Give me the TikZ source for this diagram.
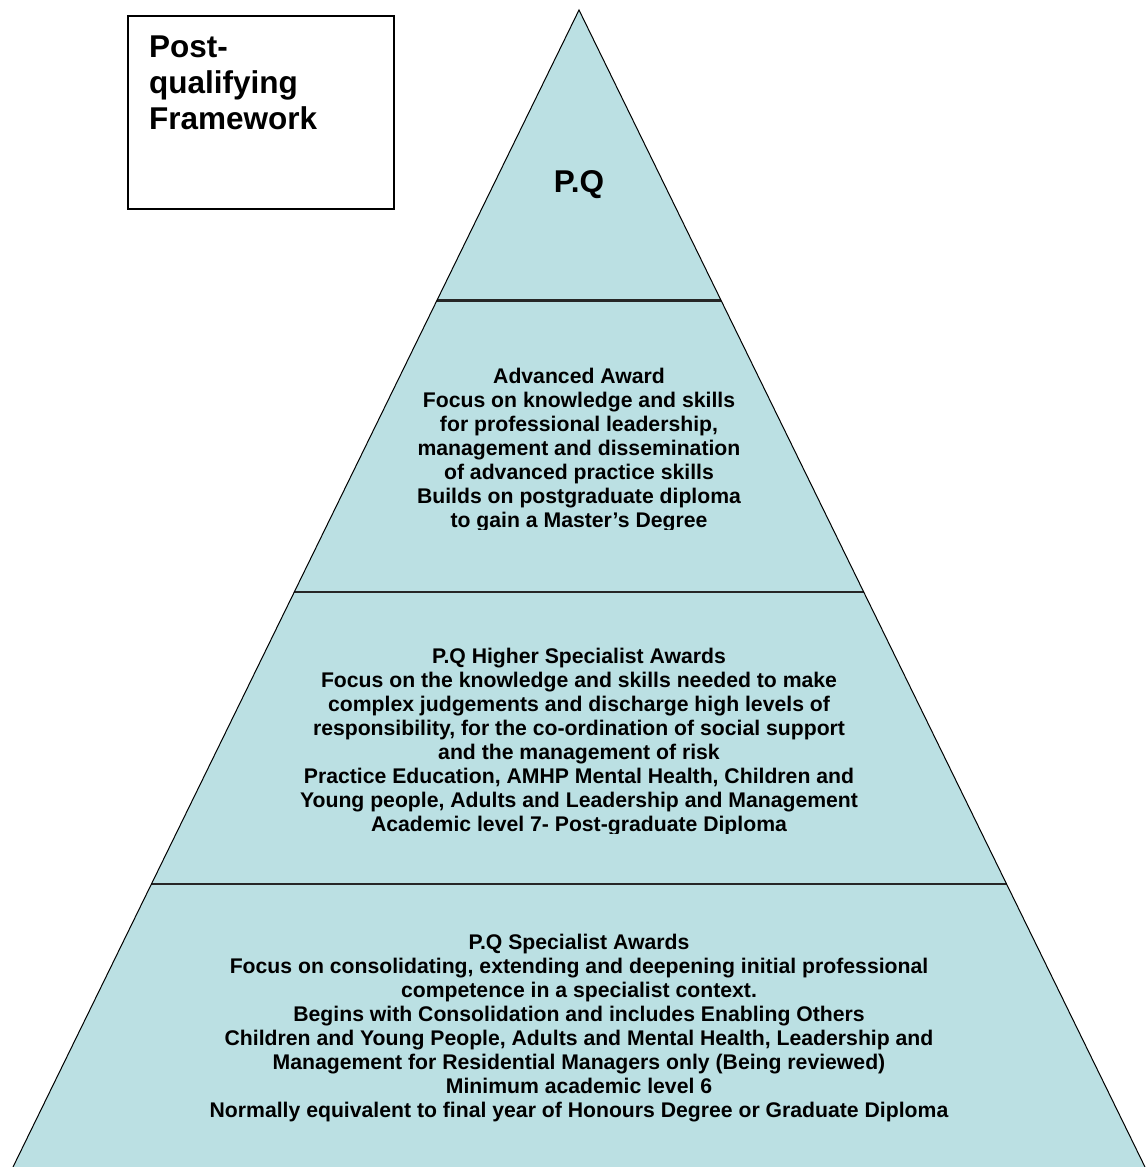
\documentclass[tikz,border=0pt]{standalone}
\usepackage{fontspec}
\setmainfont{Liberation Sans}
\usetikzlibrary{calc}
\definecolor{pqfill}{HTML}{BBE0E3}
\begin{document}
\begin{tikzpicture}[x=1pt,y=-1pt,
  edge/.style={draw=black,line width=1pt},
  divider/.style={draw=black!85,line width=2.2pt},
  bodytext/.style={anchor=base,inner sep=0pt,font=\bfseries\fontsize{21.2}{24}\selectfont},
  bigtext/.style={inner sep=0pt,font=\bfseries\fontsize{31.5}{36}\selectfont},
  framebox/.style={draw=black,line width=1.5pt,fill=white,anchor=north west,inner sep=0pt,minimum width=266pt,minimum height=193pt}]
\useasboundingbox (0,0) rectangle (1146,1167);
\coordinate (apex) at (579,10);
\coordinate (bl) at (13,1167);
\coordinate (br) at (1145,1167);
\fill[pqfill] (apex) -- (bl) -- (br) -- cycle;
\foreach \t/\n in {0.2511/a,0.5030/b,0.7554/c}{
  \coordinate (l\n) at ($(apex)!\t!(bl)$);
  \coordinate (r\n) at ($(apex)!\t!(br)$);
}
\draw[divider] (la) -- (ra);
\draw[divider] (lb) -- (rb);
\draw[divider] (lc) -- (rc);
\draw[edge] (bl) -- (apex) -- (br);

\node[framebox] (frame) at (127,15) {};
\node[bigtext,anchor=base west] (title) at (149,57) {\begin{tabular}[t]{@{}l@{}}Post-\\qualifying\\Framework\end{tabular}};

\node[bigtext,anchor=base] (pq) at (579,192) {P.Q};

\begin{scope}
\clip (0,0) rectangle (1146,529.5);
\node[bodytext] (advanced) at (579,383) {\begin{tabular}[t]{@{}c@{}}Advanced Award\\
Focus on knowledge and skills\\
for professional leadership,\\
management and dissemination\\
of advanced practice skills\\
Builds on postgraduate diploma\\
to gain a Master’s Degree\end{tabular}};
\end{scope}

\begin{scope}
\clip (0,0) rectangle (1146,833.5);
\node[bodytext] (higher) at (579,663) {\begin{tabular}[t]{@{}c@{}}P.Q Higher Specialist Awards\\
Focus on the knowledge and skills needed to make\\
complex judgements and discharge high levels of\\
responsibility, for the co-ordination of social support\\
and the management of risk\\
Practice Education, AMHP Mental Health, Children and\\
Young people, Adults and Leadership and Management\\
Academic level 7- Post-graduate Diploma\end{tabular}};
\end{scope}

\node[bodytext] (specialist) at (579,949) {\begin{tabular}[t]{@{}c@{}}P.Q Specialist Awards\\
Focus on consolidating, extending and deepening initial professional\\
competence in a specialist context.\\
Begins with Consolidation and includes Enabling Others\\
Children and Young People, Adults and Mental Health, Leadership and\\
Management for Residential Managers only (Being reviewed)\\
Minimum academic level 6\\
Normally equivalent to final year of Honours Degree or Graduate Diploma\end{tabular}};
\end{tikzpicture}
\end{document}
